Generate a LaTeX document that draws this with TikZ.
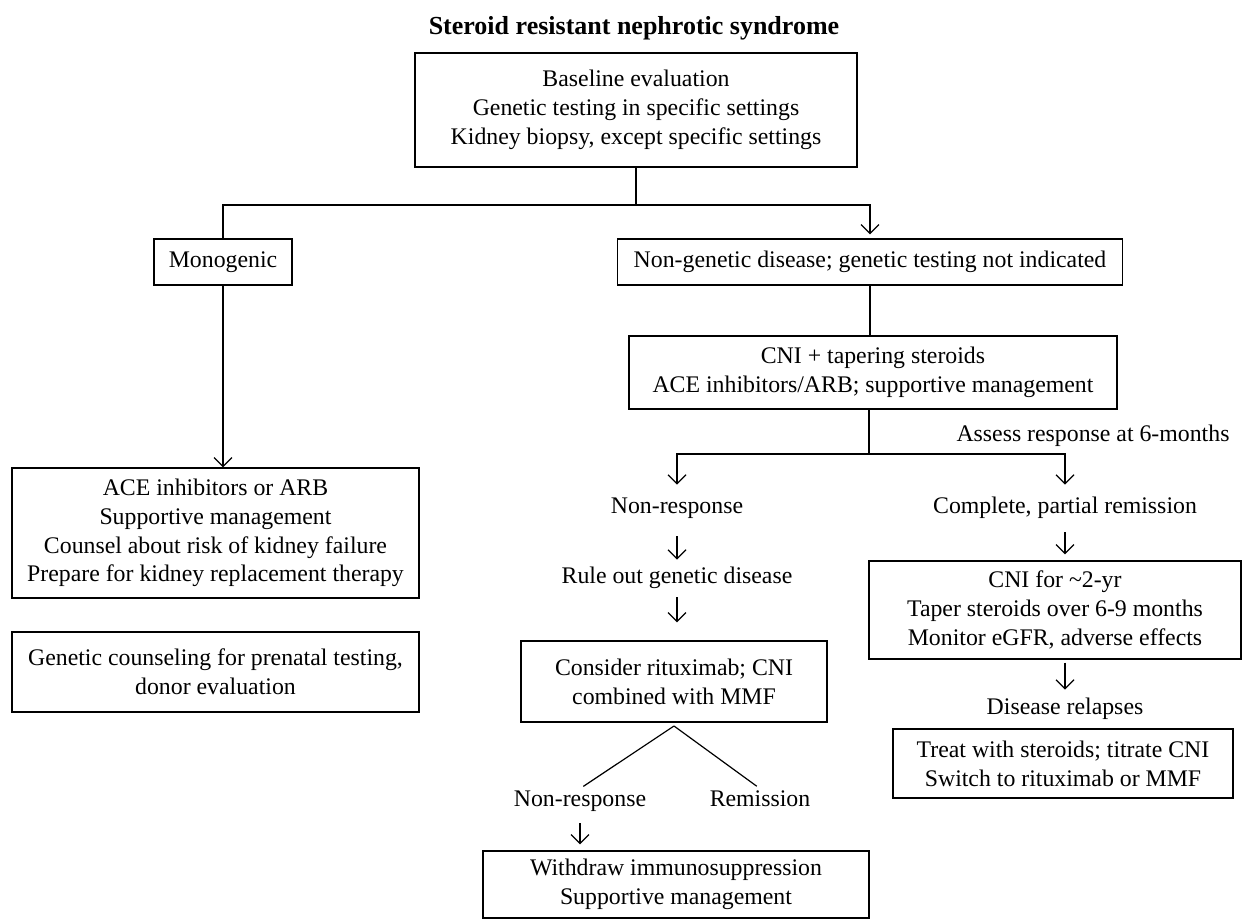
\documentclass[tikz,border=0pt]{standalone}
\usepackage{fontspec}
\setmainfont{Liberation Serif}
\usetikzlibrary{arrows.meta,positioning}

\begin{document}
\begin{tikzpicture}[x=0.5pt,y=-0.5pt,
		font=\fontsize{11.9}{14.4}\selectfont,
		box/.style={draw, line width=0.6pt, align=center, inner sep=0pt},
		txt/.style={inner sep=0pt, text height=8.5pt, text depth=2.5pt},
		conn/.style={line width=0.6pt},
		arr/.style={line width=0.6pt, -{Straight Barb[length=4.5pt,width=9pt]}}]

		\useasboundingbox (0,0) rectangle (1248,920);

		% boxes and labels
		\node[font=\fontsize{13}{15}\selectfont\bfseries] (title) at (634,28) {Steroid resistant nephrotic syndrome};
		\node[box, minimum width=221pt, minimum height=57pt] (base) at (636,110)
			{Baseline evaluation\\Genetic testing in specific settings\\Kidney biopsy, except specific settings};
		\node[box, minimum width=69pt, minimum height=23pt] (mono) at (223,262) {Monogenic};
		\node[box, minimum width=252.5pt, minimum height=23pt] (nongen) at (870,262)
			{Non-genetic disease; genetic testing not indicated};
		\node[box, minimum width=244pt, minimum height=36.5pt] (cni) at (873,372.5)
			{CNI + tapering steroids\\ACE inhibitors/ARB; supportive management};
		\node[box, minimum width=203.5pt, minimum height=65pt] (ace) at (215.5,533)
			{ACE inhibitors or ARB\\Supportive management\\Counsel about risk of kidney failure\\Prepare for kidney replacement therapy};
		\node[box, minimum width=203.5pt, minimum height=40pt] (counsel) at (215.5,672)
			{Genetic counseling for prenatal testing,\\donor evaluation};
		\node[txt] (assess) at (1093,435) {Assess response at 6-months};
		\node[txt] (nonresp) at (677,507) {Non-response};
		\node[txt] (complete) at (1065,507) {Complete, partial remission};
		\node[txt] (ruleout) at (677,577) {Rule out genetic disease};
		\node[box, minimum width=153pt, minimum height=40.5pt] (ritux) at (674,681.5)
			{Consider rituximab; CNI\\combined with MMF};
		\node[txt] (nonresptwo) at (580,800) {Non-response};
		\node[txt] (remission) at (760,800) {Remission};
		\node[box, minimum width=193pt, minimum height=33.5pt] (withdraw) at (676,884.5)
			{Withdraw immunosuppression\\Supportive management};
		\node[box, minimum width=186pt, minimum height=49pt] (twoyr) at (1055,610)
			{CNI for \textasciitilde2-yr\\Taper steroids over 6-9 months\\Monitor eGFR, adverse effects};
		\node[txt] (relapse) at (1065,708) {Disease relapses};
		\node[box, minimum width=170pt, minimum height=34.5pt] (treat) at (1063,763.5)
			{Treat with steroids; titrate CNI\\Switch to rituximab or MMF};

		% connectors
		\coordinate (split) at (636,205);
		\coordinate (fork) at (869,454);
		\coordinate (apex) at (674,726);

		\draw[conn] (base.south) -- (split);
		\draw[conn] (mono.north) |- (split);
		\draw[arr] (split) -| ([yshift=2pt]nongen.north);
		\draw[arr] (mono.south) -- (mono.south |- ace.north);
		\draw[conn] (nongen.south) -- (nongen.south |- cni.north);
		\draw[conn] (cni.south -| fork) -- (fork);
		\draw[arr, shorten >=5.5pt] (fork) -| (nonresp.north);
		\draw[arr, shorten >=5.5pt] (fork) -| (complete.north);
		\draw[arr, shorten <=9pt, shorten >=3pt] (nonresp.south) -- (ruleout.north);
		\draw[arr, shorten <=4.5pt, shorten >=9pt] (ruleout.south) -- (ruleout.south |- ritux.north);
		\draw[arr, shorten <=7pt, shorten >=3pt] (complete.south) -- (complete.south |- twoyr.north);
		\draw[arr, shorten <=1.5pt, shorten >=3.5pt] (twoyr.south -| relapse) -- (relapse.north);
		\draw[conn, shorten <=2pt] (nonresptwo.north) -- (apex);
		\draw[conn, shorten <=2pt] (remission.north) -- (apex);
		\draw[arr, shorten <=6pt, shorten >=3pt] (nonresptwo.south) -- (nonresptwo.south |- withdraw.north);

\end{tikzpicture}
\end{document}
